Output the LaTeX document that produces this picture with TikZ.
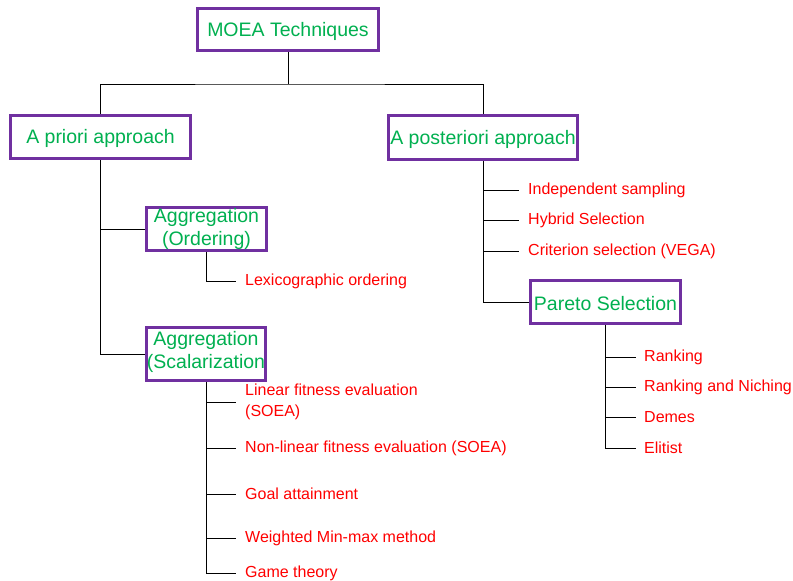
\documentclass[tikz,border=0pt]{standalone}
\usepackage{fontspec}
\setmainfont{Liberation Sans}
\definecolor{boxpurple}{HTML}{7030A0}
\definecolor{txtgreen}{HTML}{00B050}
\definecolor{txtred}{HTML}{FF0000}
\begin{document}
\begin{tikzpicture}[x=1pt,y=-1pt,
  box/.style={draw=boxpurple,line width=3pt,fill=white,inner sep=0pt,align=center,
    text=txtgreen,font=\fontsize{19.5}{23}\selectfont},
  boxtext/.style={inner sep=0pt,align=center,text=txtgreen,font=\fontsize{19.5}{23.5}\selectfont},
  leaf/.style={anchor=west,inner xsep=9pt,inner ysep=1pt,align=left,text=txtred,
    font=\fontsize{16}{21}\selectfont},
  conn/.style={draw=black,line width=0.8pt}]
\useasboundingbox (0,0) rectangle (793,581);
% boxes
\node[box,minimum width=181,minimum height=42] (moea) at (288,29.5) {};
\node[boxtext] at (288,31) {MOEA Techniques};
\node[box,minimum width=180,minimum height=43] (prior) at (100.5,137) {};
\node[boxtext] at (100.5,138.5) {A priori approach};
\node[box,minimum width=189,minimum height=44] (post) at (483,137.5) {};
\node[boxtext] at (483,139) {A posteriori approach};
\node[box,minimum width=120,minimum height=43] (ord) at (206.5,229) {};
\node[boxtext] at (206.5,229) {Aggregation\\(Ordering)};
\node[box,minimum width=119,minimum height=53] (scal) at (206,354) {};
\node[boxtext] at (206,352) {Aggregation\\(Scalarization};
\node[box,minimum width=150,minimum height=43] (par) at (605.5,302) {};
\node[boxtext] at (605.5,303.5) {Pareto Selection};
% leaves
\node[leaf] (lex) at (236,281) {Lexicographic ordering};
\node[leaf] (s1) at (236,402) {Linear fitness evaluation\\(SOEA)};
\node[leaf] (s2) at (236,448) {Non-linear fitness evaluation (SOEA)};
\node[leaf] (s3) at (236,494) {Goal attainment};
\node[leaf] (s4) at (236,538) {Weighted Min-max method};
\node[leaf] (s5) at (236,573) {Game theory};
\node[leaf] (p1) at (519,190) {Independent sampling};
\node[leaf] (p2) at (519,220) {Hybrid Selection};
\node[leaf] (p3) at (519,251) {Criterion selection (VEGA)};
\node[leaf,inner xsep=8pt] (r1) at (636,357) {Ranking};
\node[leaf,inner xsep=8pt] (r2) at (636,387) {Ranking and Niching};
\node[leaf,inner xsep=8pt] (r3) at (636,417) {Demes};
\node[leaf,inner xsep=8pt] (r4) at (636,448) {Elitist};
% connectors
\coordinate (j) at (288,84);
\draw[conn] (moea.south) -- (j);
\draw[conn] (prior.north) |- (j) -| (post.north);
\draw[conn] (prior.south) |- (scal.west);
\draw[conn] (prior.south |- ord.west) -- (ord.west);
\draw[conn] (ord.south) |- (lex.west);
\draw[conn] (scal.south) |- (s5.west);
\foreach \n in {s1,s2,s3,s4} \draw[conn] (scal.south |- \n.west) -- (\n.west);
\draw[conn] (post.south) |- (par.west);
\foreach \n in {p1,p2,p3} \draw[conn] (post.south |- \n.west) -- (\n.west);
\draw[conn] (par.south) |- (r4.west);
\foreach \n in {r1,r2,r3} \draw[conn] (par.south |- \n.west) -- (\n.west);
\end{tikzpicture}
\end{document}
